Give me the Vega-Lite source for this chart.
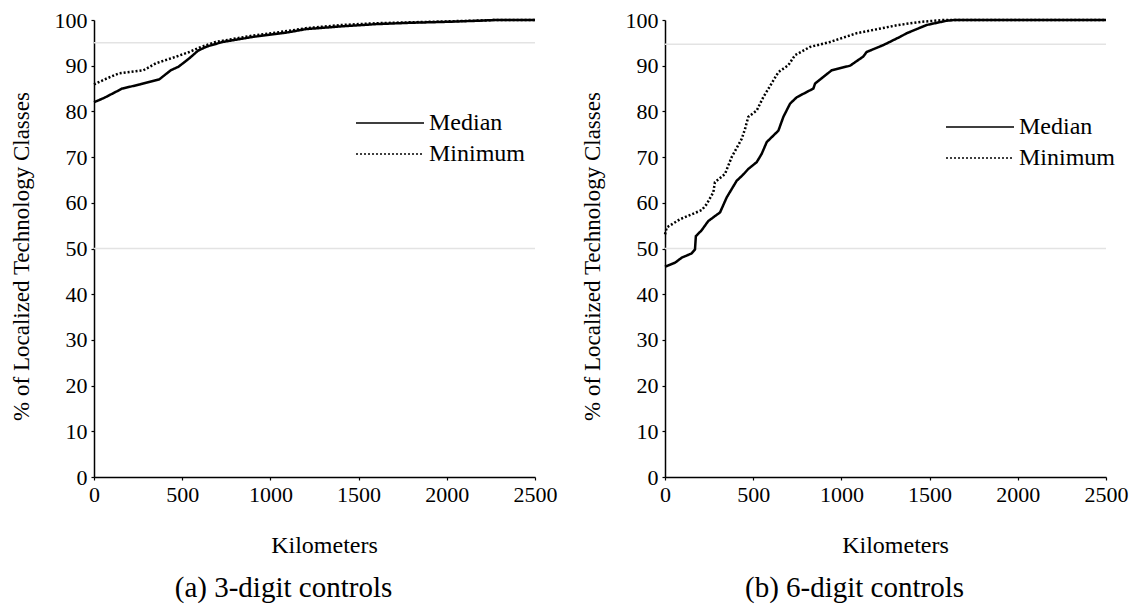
{
  "$schema": "https://vega.github.io/schema/vega-lite/v6.json",
  "background": "white",
  "padding": {"left": 10, "top": 9, "right": 5, "bottom": 5},
  "spacing": 24,
  "config": {
    "view": {"stroke": null},
    "axis": {
      "domainColor": "black", "domainWidth": 1.5, "tickColor": "black", "tickWidth": 1.2,
      "labelColor": "black", "titleColor": "black", "grid": false,
      "labelFont": "Liberation Serif", "titleFont": "Liberation Serif",
      "labelFontSize": 22, "titleFontSize": 23, "titleFontWeight": "normal",
      "tickSize": 3, "labelPadding": 4
    },
    "legend": {
      "orient": "none", "title": null, "symbolType": "stroke", "symbolSize": 4624,
      "symbolStrokeColor": "black", "symbolStrokeWidth": 1.3, "clipHeight": 26, "rowPadding": 5,
      "labelFont": "Liberation Serif",
      "labelFontSize": 24, "labelColor": "black", "labelOffset": 4, "padding": 0
    },
    "title": {"font": "Liberation Serif", "fontSize": 29, "fontWeight": "normal", "color": "black", "orient": "bottom", "frame": "bounds", "anchor": "middle", "offset": 17}
  },
  "datasets": {
    "curves": [
      {"panel": "a", "series": "Median", "km": 0, "pct": 82.0},
      {"panel": "a", "series": "Median", "km": 60, "pct": 83.0},
      {"panel": "a", "series": "Median", "km": 160, "pct": 85.0},
      {"panel": "a", "series": "Median", "km": 260, "pct": 85.9},
      {"panel": "a", "series": "Median", "km": 370, "pct": 87.0},
      {"panel": "a", "series": "Median", "km": 435, "pct": 89.0},
      {"panel": "a", "series": "Median", "km": 480, "pct": 89.8},
      {"panel": "a", "series": "Median", "km": 540, "pct": 91.6},
      {"panel": "a", "series": "Median", "km": 590, "pct": 93.3},
      {"panel": "a", "series": "Median", "km": 640, "pct": 94.2},
      {"panel": "a", "series": "Median", "km": 730, "pct": 95.2},
      {"panel": "a", "series": "Median", "km": 900, "pct": 96.3},
      {"panel": "a", "series": "Median", "km": 1100, "pct": 97.3},
      {"panel": "a", "series": "Median", "km": 1200, "pct": 98.0},
      {"panel": "a", "series": "Median", "km": 1400, "pct": 98.6},
      {"panel": "a", "series": "Median", "km": 1600, "pct": 99.1},
      {"panel": "a", "series": "Median", "km": 1800, "pct": 99.4},
      {"panel": "a", "series": "Median", "km": 2000, "pct": 99.6},
      {"panel": "a", "series": "Median", "km": 2150, "pct": 99.8},
      {"panel": "a", "series": "Median", "km": 2280, "pct": 100},
      {"panel": "a", "series": "Median", "km": 2500, "pct": 100},
      {"panel": "a", "series": "Minimum", "km": 0, "pct": 85.9},
      {"panel": "a", "series": "Minimum", "km": 60, "pct": 87.0},
      {"panel": "a", "series": "Minimum", "km": 140, "pct": 88.3},
      {"panel": "a", "series": "Minimum", "km": 280, "pct": 89.0},
      {"panel": "a", "series": "Minimum", "km": 350, "pct": 90.5},
      {"panel": "a", "series": "Minimum", "km": 460, "pct": 91.9},
      {"panel": "a", "series": "Minimum", "km": 540, "pct": 93.0},
      {"panel": "a", "series": "Minimum", "km": 600, "pct": 94.0},
      {"panel": "a", "series": "Minimum", "km": 690, "pct": 95.2},
      {"panel": "a", "series": "Minimum", "km": 900, "pct": 96.6},
      {"panel": "a", "series": "Minimum", "km": 1100, "pct": 97.6},
      {"panel": "a", "series": "Minimum", "km": 1200, "pct": 98.2},
      {"panel": "a", "series": "Minimum", "km": 1400, "pct": 98.9},
      {"panel": "a", "series": "Minimum", "km": 1600, "pct": 99.3},
      {"panel": "a", "series": "Minimum", "km": 1800, "pct": 99.5},
      {"panel": "a", "series": "Minimum", "km": 2000, "pct": 99.7},
      {"panel": "a", "series": "Minimum", "km": 2200, "pct": 99.9},
      {"panel": "a", "series": "Minimum", "km": 2280, "pct": 100},
      {"panel": "a", "series": "Minimum", "km": 2500, "pct": 100},
      {"panel": "b", "series": "Median", "km": 0, "pct": 46.0},
      {"panel": "b", "series": "Median", "km": 57, "pct": 46.9},
      {"panel": "b", "series": "Median", "km": 95, "pct": 48.0},
      {"panel": "b", "series": "Median", "km": 150, "pct": 48.9},
      {"panel": "b", "series": "Median", "km": 170, "pct": 49.8},
      {"panel": "b", "series": "Median", "km": 175, "pct": 52.7},
      {"panel": "b", "series": "Median", "km": 208, "pct": 54.0},
      {"panel": "b", "series": "Median", "km": 245, "pct": 56.0},
      {"panel": "b", "series": "Median", "km": 312, "pct": 57.9},
      {"panel": "b", "series": "Median", "km": 350, "pct": 61.2},
      {"panel": "b", "series": "Median", "km": 406, "pct": 64.8},
      {"panel": "b", "series": "Median", "km": 444, "pct": 66.2},
      {"panel": "b", "series": "Median", "km": 472, "pct": 67.4},
      {"panel": "b", "series": "Median", "km": 520, "pct": 68.9},
      {"panel": "b", "series": "Median", "km": 548, "pct": 70.7},
      {"panel": "b", "series": "Median", "km": 577, "pct": 73.3},
      {"panel": "b", "series": "Median", "km": 643, "pct": 75.8},
      {"panel": "b", "series": "Median", "km": 671, "pct": 78.8},
      {"panel": "b", "series": "Median", "km": 709, "pct": 81.7},
      {"panel": "b", "series": "Median", "km": 747, "pct": 83.1},
      {"panel": "b", "series": "Median", "km": 841, "pct": 85.0},
      {"panel": "b", "series": "Median", "km": 851, "pct": 86.1},
      {"panel": "b", "series": "Median", "km": 945, "pct": 89.0},
      {"panel": "b", "series": "Median", "km": 1049, "pct": 90.0},
      {"panel": "b", "series": "Median", "km": 1124, "pct": 92.0},
      {"panel": "b", "series": "Median", "km": 1143, "pct": 93.0},
      {"panel": "b", "series": "Median", "km": 1237, "pct": 94.5},
      {"panel": "b", "series": "Median", "km": 1332, "pct": 96.3},
      {"panel": "b", "series": "Median", "km": 1370, "pct": 97.1},
      {"panel": "b", "series": "Median", "km": 1483, "pct": 98.9},
      {"panel": "b", "series": "Median", "km": 1597, "pct": 99.85},
      {"panel": "b", "series": "Median", "km": 1640, "pct": 100},
      {"panel": "b", "series": "Median", "km": 2500, "pct": 100},
      {"panel": "b", "series": "Minimum", "km": 0, "pct": 53.1},
      {"panel": "b", "series": "Minimum", "km": 10, "pct": 54.6},
      {"panel": "b", "series": "Minimum", "km": 85, "pct": 56.4},
      {"panel": "b", "series": "Minimum", "km": 208, "pct": 58.4},
      {"panel": "b", "series": "Minimum", "km": 236, "pct": 59.7},
      {"panel": "b", "series": "Minimum", "km": 274, "pct": 62.3},
      {"panel": "b", "series": "Minimum", "km": 283, "pct": 64.5},
      {"panel": "b", "series": "Minimum", "km": 340, "pct": 66.3},
      {"panel": "b", "series": "Minimum", "km": 378, "pct": 70.0},
      {"panel": "b", "series": "Minimum", "km": 435, "pct": 74.0},
      {"panel": "b", "series": "Minimum", "km": 454, "pct": 76.2},
      {"panel": "b", "series": "Minimum", "km": 472, "pct": 78.8},
      {"panel": "b", "series": "Minimum", "km": 520, "pct": 80.2},
      {"panel": "b", "series": "Minimum", "km": 557, "pct": 83.1},
      {"panel": "b", "series": "Minimum", "km": 643, "pct": 88.6},
      {"panel": "b", "series": "Minimum", "km": 699, "pct": 90.1},
      {"panel": "b", "series": "Minimum", "km": 737, "pct": 92.3},
      {"panel": "b", "series": "Minimum", "km": 822, "pct": 94.1},
      {"panel": "b", "series": "Minimum", "km": 935, "pct": 95.2},
      {"panel": "b", "series": "Minimum", "km": 1086, "pct": 97.1},
      {"panel": "b", "series": "Minimum", "km": 1322, "pct": 98.9},
      {"panel": "b", "series": "Minimum", "km": 1450, "pct": 99.6},
      {"panel": "b", "series": "Minimum", "km": 1580, "pct": 100},
      {"panel": "b", "series": "Minimum", "km": 2500, "pct": 100}
    ],
    "grid": [
      {"panel": "a", "level": 95},
      {"panel": "a", "level": 50},
      {"panel": "b", "level": 94.7},
      {"panel": "b", "level": 50}
    ]
  },
  "resolve": {"scale": {"strokeDash": "independent"}, "legend": {"strokeDash": "independent"}},
  "hconcat": [
    {
      "width": 441, "height": 457,
      "title": {"text": "(a) 3-digit controls"},
      "layer": [
        {
          "data": {"name": "grid"},
          "transform": [{"filter": "datum.panel === 'a'"}],
          "mark": {"type": "rule", "color": "#e3e3e3", "strokeWidth": 1.5},
          "encoding": {"y": {"field": "level", "type": "quantitative", "scale": {"domain": [0, 100]}}}
        },
        {
          "data": {"name": "curves"},
          "transform": [{"filter": "datum.panel === 'a'"}],
          "mark": {"type": "line", "color": "black", "strokeWidth": 2.5},
          "encoding": {
            "x": {"field": "km", "type": "quantitative", "scale": {"domain": [0, 2500], "nice": false},
                  "axis": {"values": [0, 500, 1000, 1500, 2000, 2500], "format": "d", "title": "Kilometers", "titleFontSize": 24, "labelFlush": false, "titlePadding": 28, "titleX": 230}},
            "y": {"field": "pct", "type": "quantitative", "scale": {"domain": [0, 100]},
                  "axis": {"values": [0, 10, 20, 30, 40, 50, 60, 70, 80, 90, 100], "title": "% of Localized Technology Classes", "titlePadding": 21, "titleY": 236}},
            "strokeDash": {"field": "series", "type": "nominal",
                           "scale": {"domain": ["Median", "Minimum"], "range": [[1, 0], [2, 2]]},
                           "legend": {"legendX": 261, "legendY": 90}}
          }
        }
      ]
    },
    {
      "width": 441, "height": 457,
      "title": {"text": "(b) 6-digit controls"},
      "layer": [
        {
          "data": {"name": "grid"},
          "transform": [{"filter": "datum.panel === 'b'"}],
          "mark": {"type": "rule", "color": "#e3e3e3", "strokeWidth": 1.5},
          "encoding": {"y": {"field": "level", "type": "quantitative", "scale": {"domain": [0, 100]}}}
        },
        {
          "data": {"name": "curves"},
          "transform": [{"filter": "datum.panel === 'b'"}],
          "mark": {"type": "line", "color": "black", "strokeWidth": 2.5},
          "encoding": {
            "x": {"field": "km", "type": "quantitative", "scale": {"domain": [0, 2500], "nice": false},
                  "axis": {"values": [0, 500, 1000, 1500, 2000, 2500], "format": "d", "title": "Kilometers", "titleFontSize": 24, "labelFlush": false, "titlePadding": 28, "titleX": 230}},
            "y": {"field": "pct", "type": "quantitative", "scale": {"domain": [0, 100]},
                  "axis": {"values": [0, 10, 20, 30, 40, 50, 60, 70, 80, 90, 100], "title": "% of Localized Technology Classes", "titlePadding": 21, "titleY": 236}},
            "strokeDash": {"field": "series", "type": "nominal",
                           "scale": {"domain": ["Median", "Minimum"], "range": [[1, 0], [2, 2]]},
                           "legend": {"legendX": 280, "legendY": 94}}
          }
        }
      ]
    }
  ]
}
